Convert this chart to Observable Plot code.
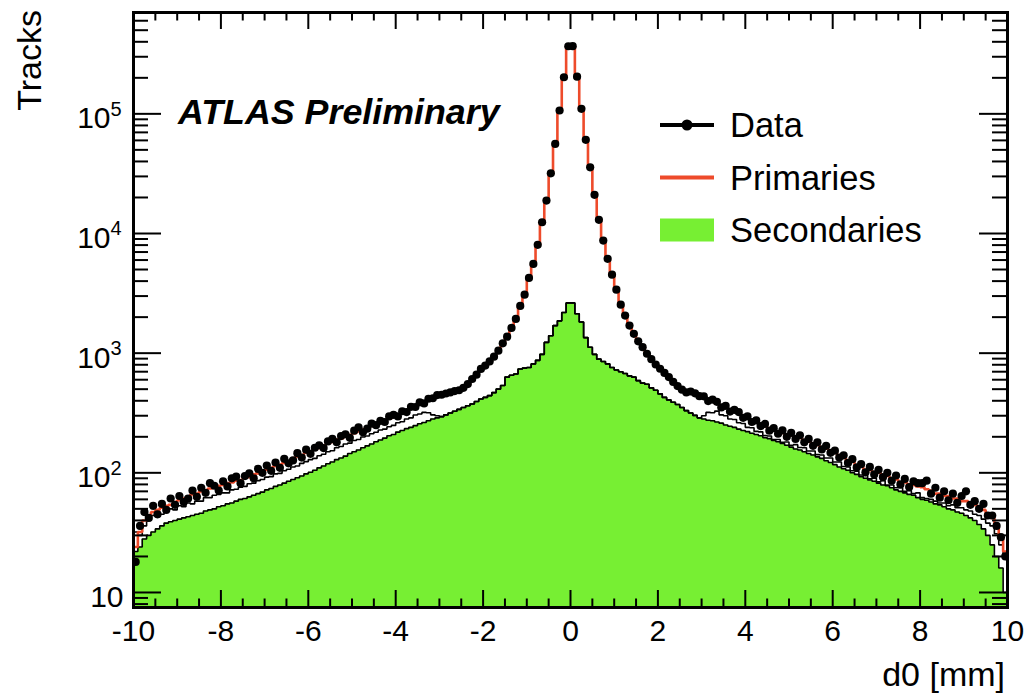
<!DOCTYPE html>
<html>
<head>
<meta charset="utf-8">
<script src="https://cdn.jsdelivr.net/npm/d3@7"></script>
<script src="https://cdn.jsdelivr.net/npm/@observablehq/plot@0.6"></script>
<style>
  html, body { margin: 0; padding: 0; background: #fff; }
  #chart { width: 1028px; height: 694px; }
</style>
</head>
<body>
<div id="chart"></div>
<script>
// Transverse impact parameter d0, 200 bins of 0.1 mm from -10 to 10 mm
const d0Limits = [-10, 10];
const binWidth = 0.1;

// Observed track counts per bin
const dataCounts = [
  18, 36, 47, 42, 53, 45, 55, 49, 61, 54,
  64, 57, 61, 71, 63, 75, 68, 82, 78, 71,
  85, 77, 90, 93, 82, 94, 99, 90, 108, 100,
  115, 104, 122, 110, 131, 120, 127, 146, 134, 156,
  144, 162, 170, 161, 183, 192, 180, 203, 210, 196,
  225, 240, 218, 234, 258, 250, 272, 266, 296, 305,
  296, 327, 322, 356, 355, 388, 380, 416, 420, 446,
  449, 460, 470, 482, 490, 513, 552, 608, 661, 738,
  787, 853, 935, 1050, 1208, 1374, 1626, 1932, 2483, 3083,
  4256, 5572, 8035, 12420, 18840, 31840, 56100, 106700, 202300, 367300,
  368000, 204600, 110200, 60700, 35730, 21040, 13000, 8730, 6140, 4530,
  3390, 2540, 2060, 1700, 1450, 1256, 1122, 989, 891, 804,
  741, 684, 631, 575, 531, 495, 470, 478, 462, 437,
  436, 398, 409, 392, 352, 363, 325, 336, 322, 288,
  296, 266, 274, 246, 256, 225, 236, 212, 226, 200,
  216, 192, 206, 180, 192, 168, 180, 157, 168, 147,
  153, 134, 140, 121, 130, 111, 118, 101, 112, 97,
  106, 92, 100, 86, 95, 80, 89, 76, 85, 82,
  82, 86, 67, 75, 62, 70, 59, 67, 56, 64,
  70, 54, 58, 50, 55, 44, 44, 36, 29, 20
];

// Simulated primaries (drawn as the red histogram line)
const primariesCounts = [
  24, 32, 40, 44, 47, 49, 51, 53, 54, 57,
  59, 61, 63, 66, 67, 70, 71, 74, 75, 78,
  79, 82, 83, 86, 87, 91, 92, 97, 99, 104,
  106, 110, 114, 117, 121, 125, 131, 137, 140, 147,
  150, 157, 161, 169, 176, 181, 190, 194, 201, 208,
  214, 222, 230, 238, 246, 255, 264, 274, 283, 294,
  307, 316, 330, 345, 360, 373, 388, 406, 424, 437,
  446, 458, 467, 480, 492, 515, 548, 604, 665, 732,
  792, 848, 940, 1045, 1200, 1380, 1620, 1940, 2460, 3100,
  4230, 5600, 8000, 12500, 18900, 31600, 56400, 106000, 203000, 366000,
  367000, 204000, 110500, 60400, 35900, 20900, 13100, 8700, 6160, 4510,
  3400, 2530, 2070, 1690, 1455, 1250, 1125, 985, 895, 800,
  745, 680, 634, 572, 533, 493, 472, 470, 456, 440,
  428, 410, 398, 378, 364, 350, 340, 322, 314, 297,
  286, 273, 264, 252, 246, 232, 227, 219, 215, 207,
  205, 198, 196, 186, 183, 174, 171, 162, 159, 151,
  147, 138, 134, 125, 124, 115, 113, 106, 105, 100,
  100, 96, 94, 89, 88, 83, 83, 80, 79, 77,
  76, 73, 71, 67, 67, 64, 64, 61, 61, 58,
  58, 55, 54, 50, 49, 45, 42, 35, 28, 22
];

// Simulated secondaries (green filled histogram)
const secondariesCounts = [
  22, 24, 28, 30, 32, 34, 36, 38, 39, 40,
  41, 42, 43, 44, 45, 46, 48, 49, 50, 52,
  53, 55, 56, 58, 60, 61, 63, 65, 67, 69,
  72, 74, 77, 79, 82, 85, 88, 91, 94, 98,
  101, 105, 110, 114, 119, 123, 129, 133, 138, 145,
  150, 155, 162, 168, 174, 182, 188, 195, 204, 209,
  219, 226, 234, 240, 248, 257, 263, 272, 282, 288,
  295, 305, 316, 327, 339, 351, 363, 376, 394, 414,
  427, 442, 468, 501, 537, 631, 653, 670, 738, 750,
  759, 813, 871, 977, 1230, 1400, 1700, 1862, 2188, 2630,
  2630, 2138, 1820, 1349, 1122, 977, 891, 851, 813, 759,
  724, 700, 676, 646, 631, 589, 562, 550, 513, 490,
  457, 427, 407, 389, 372, 351, 331, 316, 302, 288,
  282, 275, 272, 266, 260, 251, 245, 240, 232, 226,
  221, 214, 209, 204, 197, 193, 186, 182, 176, 170,
  164, 158, 155, 150, 145, 141, 136, 132, 126, 122,
  117, 112, 108, 105, 100, 97, 93, 90, 87, 85,
  82, 79, 78, 75, 72, 70, 68, 66, 65, 62,
  60, 59, 57, 55, 54, 52, 50, 49, 47, 46,
  44, 42, 40, 37, 34, 30, 25, 20, 16, 10
];

// Black-outlined stacked histogram sitting between the secondaries and the primaries
const stackOutlineCounts = [
  32, 30, 36, 40, 44, 43, 45, 47, 50, 49,
  53, 52, 56, 55, 58, 58, 62, 62, 65, 66,
  68, 68, 72, 73, 76, 77, 81, 82, 86, 88,
  92, 93, 98, 99, 104, 107, 112, 114, 120, 124,
  129, 132, 139, 143, 150, 153, 162, 166, 174, 177,
  186, 190, 199, 203, 212, 218, 228, 232, 243, 249,
  262, 267, 282, 288, 304, 310, 320, 318, 305, 300,
  295, 305, 316, 327, 339, 351, 363, 376, 394, 414,
  427, 442, 468, 501, 537, 631, 653, 670, 738, 750,
  759, 813, 871, 977, 1230, 1400, 1700, 1862, 2188, 2630,
  2630, 2138, 1820, 1349, 1122, 977, 891, 851, 813, 759,
  724, 700, 676, 646, 631, 589, 562, 550, 513, 490,
  457, 427, 407, 389, 372, 351, 331, 316, 302, 288,
  300, 320, 318, 328, 305, 300, 282, 279, 262, 258,
  240, 238, 222, 220, 205, 203, 190, 190, 180, 181,
  170, 172, 163, 162, 152, 152, 142, 141, 133, 133,
  123, 123, 113, 112, 104, 103, 96, 95, 89, 90,
  84, 86, 79, 79, 75, 75, 70, 71, 67, 68,
  62, 61, 60, 58, 56, 56, 53, 54, 51, 51,
  49, 48, 45, 44, 41, 38, 36, 31, 25, 20
];

const seriesNames = ["Data", "Primaries", "Secondaries"];
const xTickValues = [-10, -8, -6, -4, -2, 0, 2, 4, 6, 8, 10];
const yTickValues = [10, 100, 1000, 10000, 100000];
const yTickExponents = ["", "2", "3", "4", "5"];
const xTitle = "d0 [mm]";
const yTitle = "Tracks";
const experimentLabel = "ATLAS Preliminary";

[dataCounts, primariesCounts, secondariesCounts, stackOutlineCounts].forEach((a, k) => {
  if (a.length !== 200) throw new Error("series " + k + " has " + a.length + " bins");
});

// ---- layout ----
const W = 1028, H = 694;
const M = {top: 12, right: 21, bottom: 87, left: 133};
const yDomain = [7.49, 7.03e5];
const FONT = "'Liberation Sans', Arial, Helvetica, sans-serif";
const RED = "#ee4b2b";
const GREEN = "#77ef33";

const pxPerDecade = (H - M.top - M.bottom) / Math.log10(yDomain[1] / yDomain[0]);
const pxPerMm = (W - M.left - M.right) / (d0Limits[1] - d0Limits[0]);
const yFactor = px => 10 ** (px / pxPerDecade);   // a pixel length expressed on the log axis
const xSpan = px => px / pxPerMm;                   // a pixel length expressed on the d0 axis

const binLo = i => d0Limits[0] + i * binWidth;
const binHi = i => d0Limits[0] + (i + 1) * binWidth;

// outline points of a step histogram
function steps(counts) {
  const pts = [];
  counts.forEach((v, i) => { pts.push({x: binLo(i), y: v}); pts.push({x: binHi(i), y: v}); });
  return pts;
}
const dataPoints = dataCounts.map((v, i) => ({x: (binLo(i) + binHi(i)) / 2, y: v}));

// ticks: majors every 2 mm / each decade, minors every 0.5 mm / 2..9 per decade
const xMinor = d3.range(d0Limits[0], d0Limits[1] + 1e-9, 0.5).filter(v => !xTickValues.some(t => Math.abs(t - v) < 1e-9));
const yMinor = [];
for (let e = 0; e <= 5; e++) for (let m = 2; m <= 9; m++) {
  const v = m * 10 ** e;
  if (v > yDomain[0] && v < yDomain[1]) yMinor.push(v);
}
const expLabels = yTickValues.map((v, i) => ({v, e: yTickExponents[i]})).filter(d => d.e !== "");
const plainLabels = yTickValues.map((v, i) => ({v, e: yTickExponents[i]})).filter(d => d.e === "");

const lo = () => yDomain[0], hi = () => yDomain[1];
const left = () => d0Limits[0], right = () => d0Limits[1];

const plot = Plot.plot({
  width: W, height: H,
  marginTop: M.top, marginRight: M.right, marginBottom: M.bottom, marginLeft: M.left,
  style: {fontFamily: FONT, background: "#fff", overflow: "visible"},
  x: {domain: d0Limits, axis: null},
  y: {type: "log", domain: yDomain, axis: null},
  marks: [
    Plot.areaY(steps(secondariesCounts), {x: "x", y1: lo, y2: "y", fill: GREEN, clip: true}),
    Plot.line(steps(stackOutlineCounts), {x: "x", y: "y", stroke: "#000", strokeWidth: 1.6, strokeLinejoin: "miter", clip: true}),
    Plot.line(steps(secondariesCounts), {x: "x", y: "y", stroke: "#000", strokeWidth: 1.6, strokeLinejoin: "miter", clip: true}),
    Plot.line(steps(primariesCounts), {x: "x", y: "y", stroke: RED, strokeWidth: 2.6, strokeLinejoin: "miter", clip: true}),
    Plot.dot(dataPoints, {x: "x", y: "y", r: 4.1, fill: "#000", clip: true}),

    // inward ticks on all four sides
    Plot.ruleX(xTickValues, {x: d => d, y1: lo, y2: () => yDomain[0] * yFactor(17), strokeWidth: 2}),
    Plot.ruleX(xMinor, {x: d => d, y1: lo, y2: () => yDomain[0] * yFactor(8.5), strokeWidth: 2}),
    Plot.ruleX(xTickValues, {x: d => d, y1: hi, y2: () => yDomain[1] / yFactor(17), strokeWidth: 2}),
    Plot.ruleX(xMinor, {x: d => d, y1: hi, y2: () => yDomain[1] / yFactor(8.5), strokeWidth: 2}),
    Plot.ruleY(yTickValues, {y: d => d, x1: left, x2: () => d0Limits[0] + xSpan(28), strokeWidth: 2}),
    Plot.ruleY(yMinor, {y: d => d, x1: left, x2: () => d0Limits[0] + xSpan(15), strokeWidth: 2}),
    Plot.ruleY(yTickValues, {y: d => d, x1: right, x2: () => d0Limits[1] - xSpan(28), strokeWidth: 2}),
    Plot.ruleY(yMinor, {y: d => d, x1: right, x2: () => d0Limits[1] - xSpan(15), strokeWidth: 2}),
    Plot.frame({stroke: "#000", strokeWidth: 3}),

    // tick labels
    Plot.text(xTickValues, {x: d => d, y: lo, text: d => String(d), dy: 23.5, fontSize: 30}),
    Plot.text(expLabels, {x: left, y: "v", text: () => "10", textAnchor: "end", dx: -23, dy: 5, fontSize: 30}),
    Plot.text(expLabels, {x: left, y: "v", text: "e", textAnchor: "start", dx: -23, dy: -4.5, fontSize: 20}),
    Plot.text(plainLabels, {x: left, y: "v", text: () => "10", textAnchor: "end", dx: -10, dy: 5, fontSize: 30})
  ]
});

// titles, experiment label and legend
const svg = d3.select(plot);
svg.append("text")
  .attr("transform", "translate(41,10) rotate(-90)")
  .attr("text-anchor", "end").attr("font-size", 34).attr("font-family", FONT)
  .text(yTitle);
svg.append("text")
  .attr("x", 1005).attr("y", 686)
  .attr("text-anchor", "end").attr("font-size", 34).attr("font-family", FONT)
  .text(xTitle);
svg.append("text")
  .attr("x", 178).attr("y", 123.5).attr("text-anchor", "start")
  .attr("font-size", 35.8).attr("font-weight", "bold").attr("font-style", "italic").attr("font-family", FONT)
  .text(experimentLabel);

const legend = svg.append("g").attr("font-family", FONT).attr("font-size", 34.5).attr("text-anchor", "start");
const legX = 660, legW = 54, legTextX = 730, legY0 = 125, legStep = 52.5;
seriesNames.forEach((name, i) => {
  const cy = legY0 + i * legStep;
  if (i === 0) {
    legend.append("line").attr("x1", legX).attr("x2", legX + legW).attr("y1", cy).attr("y2", cy)
      .attr("stroke", "#000").attr("stroke-width", 4);
    legend.append("circle").attr("cx", legX + legW / 2).attr("cy", cy).attr("r", 5.5).attr("fill", "#000");
  } else if (i === 1) {
    legend.append("line").attr("x1", legX).attr("x2", legX + legW).attr("y1", cy).attr("y2", cy)
      .attr("stroke", RED).attr("stroke-width", 4);
  } else {
    legend.append("rect").attr("x", legX).attr("y", cy - 11.5).attr("width", legW).attr("height", 23)
      .attr("fill", GREEN);
  }
  legend.append("text").attr("x", legTextX).attr("y", cy + 12).text(name);
});

document.getElementById("chart").appendChild(plot);
</script>
</body>
</html>
